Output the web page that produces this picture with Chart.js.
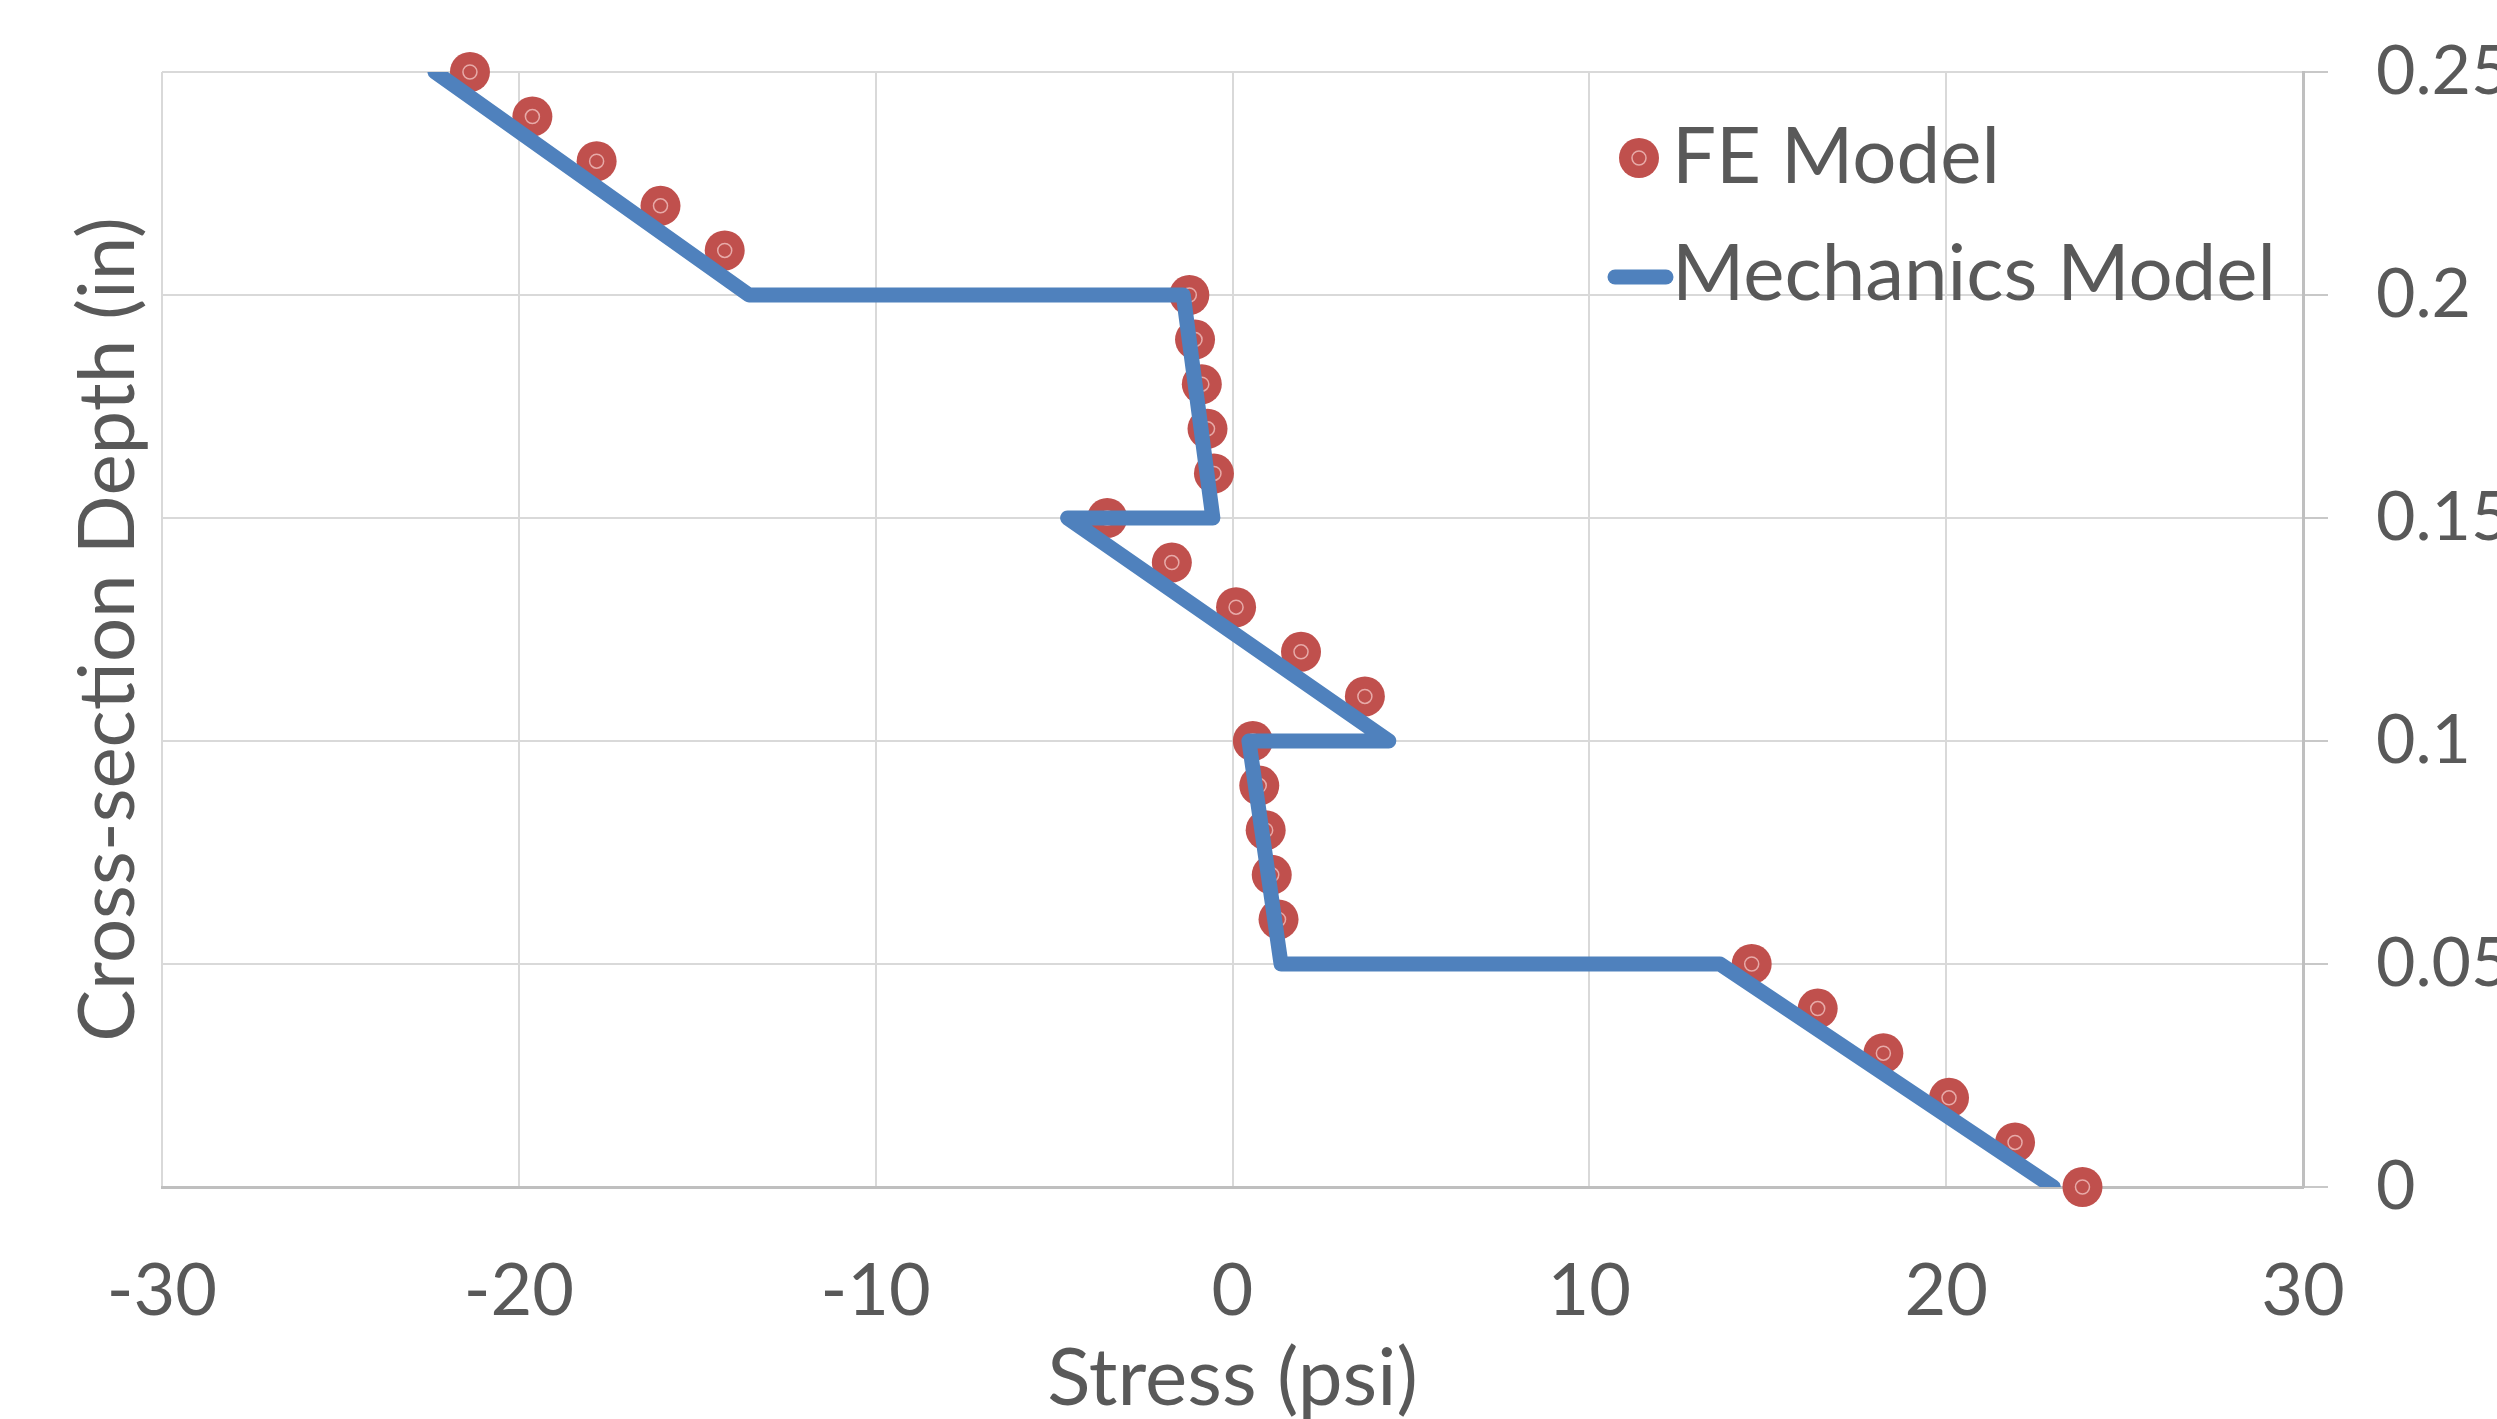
<!DOCTYPE html>
<html lang="en">
<head>
  <meta charset="UTF-8">
  <title>Stress vs Cross-section Depth</title>
  <script src="https://cdn.jsdelivr.net/npm/chart.js"></script>
  <style>
    html, body { margin: 0; padding: 0; background: #ffffff; }
    canvas { display: block; }
  </style>
</head>
<body>
  <canvas id="stressChart" width="2497" height="1419"></canvas>
  <script>
    // FE model results (stress in psi, depth in inches)
    const feStress = [23.82, 21.93, 20.08, 18.24, 16.40, 14.55, 1.29, 1.10, 0.93, 0.75, 0.57,
                      3.71, 1.92, 0.10, -1.70, -3.51, -0.52, -0.70, -0.86, -1.05, -1.21,
                      -14.23, -16.03, -17.82, -19.62, -21.37];
    const feDepth = [0, 0.01, 0.02, 0.03, 0.04, 0.05, 0.06, 0.07, 0.08, 0.09, 0.10,
                     0.11, 0.12, 0.13, 0.14, 0.15, 0.16, 0.17, 0.18, 0.19, 0.20,
                     0.21, 0.22, 0.23, 0.24, 0.25];

    // Mechanics model polyline
    const mechStress = [23.0, 13.66, 1.36, 0.46, 4.38, -4.62, -0.55, -1.38, -13.55, -22.35];
    const mechDepth = [0, 0.05, 0.05, 0.10, 0.10, 0.15, 0.15, 0.20, 0.20, 0.25];

    // axis ticks
    const xTickValues = [-30, -20, -10, 0, 10, 20, 30];
    const xTickLabels = ['-30', '-20', '-10', '0', '10', '20', '30'];
    const yTickValues = [0, 0.05, 0.10, 0.15, 0.20, 0.25];
    const yTickLabels = ['0', '0.05', '0.1', '0.15', '0.2', '0.25'];

    const seriesNames = ['FE Model', 'Mechanics Model'];

    const RED = '#C0504D';
    const BLUE = '#4F81BD';
    const RING = '#E7AAA8';
    const TEXT = '#595959';
    const FONT = 'Lato';

    const toPoints = (xs, ys) => xs.map((x, i) => ({ x: x, y: ys[i] }));

    // legend drawn inside the plot, like the Excel original
    const insideLegend = {
      id: 'insideLegend',
      afterDraw(chart) {
        const ctx = chart.ctx;
        ctx.save();
        // FE marker
        ctx.fillStyle = RED;
        ctx.beginPath();
        ctx.arc(1639, 158, 20, 0, Math.PI * 2);
        ctx.fill();
        ctx.strokeStyle = RING;
        ctx.lineWidth = 1.5;
        ctx.beginPath();
        ctx.arc(1639, 158, 7, 0, Math.PI * 2);
        ctx.stroke();
        // mechanics line
        ctx.strokeStyle = BLUE;
        ctx.lineWidth = 15;
        ctx.lineCap = 'round';
        ctx.beginPath();
        ctx.moveTo(1615, 277);
        ctx.lineTo(1666, 277);
        ctx.stroke();
        // labels
        ctx.fillStyle = TEXT;
        ctx.font = '78px ' + FONT;
        ctx.textBaseline = 'alphabetic';
        ctx.textAlign = 'left';
        ctx.fillText(seriesNames[0], 1672, 183);
        ctx.fillText(seriesNames[1], 1672, 300);
        ctx.restore();
      }
    };

    function noEdgePadding(s) {
      s.paddingTop = 0;
      s.paddingBottom = 0;
      s.paddingLeft = 0;
      s.paddingRight = 0;
    }

    function draw() {
      const ctx = document.getElementById('stressChart').getContext('2d');
      new Chart(ctx, {
        type: 'scatter',
        data: {
          datasets: [{
            label: seriesNames[1],
            data: toPoints(mechStress, mechDepth),
            showLine: true,
            borderColor: BLUE,
            borderWidth: 15,
            borderJoinStyle: 'round',
            borderCapStyle: 'round',
            pointRadius: 0,
            pointHoverRadius: 0,
            fill: false,
            clip: 0,
            yAxisID: 'y',
            order: 0
          }, {
            label: seriesNames[0] + ' ring',
            data: toPoints(feStress, feDepth),
            showLine: false,
            pointRadius: 7,
            pointBackgroundColor: 'rgba(0,0,0,0)',
            pointBorderColor: RING,
            pointBorderWidth: 1.5,
            clip: false,
            yAxisID: 'y',
            order: 1
          }, {
            label: seriesNames[0],
            data: toPoints(feStress, feDepth),
            showLine: false,
            pointRadius: 20,
            pointBackgroundColor: RED,
            pointBorderWidth: 0,
            clip: false,
            yAxisID: 'y',
            order: 2
          }]
        },
        options: {
          responsive: false,
          animation: false,
          layout: { padding: { top: 72, left: 0, right: 0, bottom: 0 } },
          plugins: {
            legend: { display: false },
            tooltip: { enabled: false }
          },
          scales: {
            x: {
              type: 'linear',
              position: 'bottom',
              min: -30,
              max: 30,
              afterBuildTicks: s => { s.ticks = xTickValues.map(v => ({ value: v })); },
              afterFit: s => { s.height = 232; noEdgePadding(s); },
              grid: { color: '#D9D9D9', lineWidth: 2, drawTicks: false },
              border: { color: '#BFBFBF', width: 3 },
              ticks: {
                padding: 62,
                color: TEXT,
                font: { family: FONT, size: 72 },
                callback: (v, i) => xTickLabels[i]
              },
              title: {
                display: true,
                text: 'Stress (psi)',
                color: TEXT,
                font: { family: FONT, size: 80, lineHeight: 1 },
                padding: 0
              }
            },
            y: {
              type: 'linear',
              position: 'right',
              min: 0,
              max: 0.25,
              afterBuildTicks: s => { s.ticks = yTickValues.map(v => ({ value: v })); },
              afterFit: s => { s.width = 194; noEdgePadding(s); },
              grid: { color: '#D9D9D9', lineWidth: 2, tickLength: 25, tickColor: '#C8C8C8', tickWidth: 2 },
              border: { color: '#BFBFBF', width: 3 },
              ticks: {
                padding: 48,
                color: TEXT,
                font: { family: FONT, size: 68 },
                callback: (v, i) => yTickLabels[i]
              }
            },
            yl: {
              type: 'linear',
              position: 'left',
              min: 0,
              max: 0.25,
              afterFit: s => { s.width = 162; noEdgePadding(s); },
              grid: { display: false },
              border: { display: false },
              ticks: { display: false },
              title: {
                display: true,
                text: 'Cross-section Depth (in)',
                color: TEXT,
                font: { family: FONT, size: 78, lineHeight: 1 },
                padding: { top: 70, bottom: 0 }
              }
            }
          }
        },
        plugins: [insideLegend]
      });
    }

    document.fonts.load('72px ' + FONT).then(draw, draw);
  </script>
</body>
</html>
